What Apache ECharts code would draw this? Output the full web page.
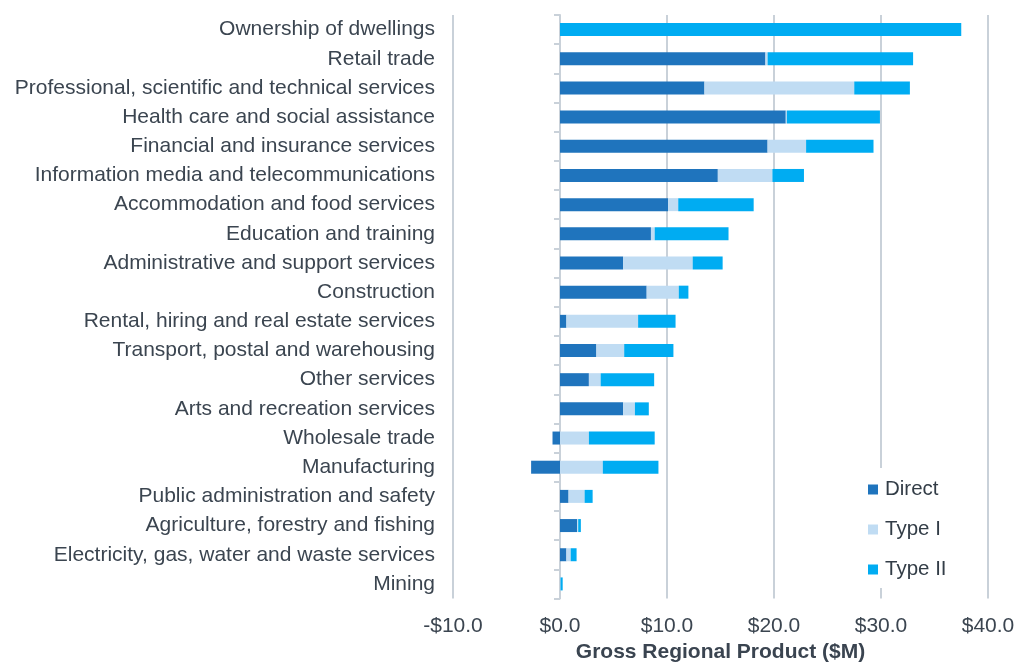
<!DOCTYPE html>
<html>
<head>
<meta charset="utf-8">
<script src="https://cdn.jsdelivr.net/npm/echarts@6/dist/echarts.min.js"></script>
<style>html,body{margin:0;padding:0;background:#fff;overflow:hidden}#c{width:1019px;height:668px}</style>
</head>
<body>
<div id="c"></div>
<script>
const categories = [
  'Ownership of dwellings',
  'Retail trade',
  'Professional, scientific and technical services',
  'Health care and social assistance',
  'Financial and insurance services',
  'Information media and telecommunications',
  'Accommodation and food services',
  'Education and training',
  'Administrative and support services',
  'Construction',
  'Rental, hiring and real estate services',
  'Transport, postal and warehousing',
  'Other services',
  'Arts and recreation services',
  'Wholesale trade',
  'Manufacturing',
  'Public administration and safety',
  'Agriculture, forestry and fishing',
  'Electricity, gas, water and waste services',
  'Mining'
];
const direct = [0, 19.2, 13.5, 21.1, 19.4, 14.75, 10.1, 8.5, 5.9, 8.1, 0.6, 3.4, 2.7, 5.9, -0.7, -2.7, 0.8, 1.6, 0.6, 0];
const typeI  = [0, 0.2, 14.0, 0.1, 3.6, 5.1, 0.95, 0.35, 6.5, 3.0, 6.7, 2.6, 1.1, 1.1, 2.7, 4.0, 1.5, 0.1, 0.4, 0.05];
const typeII = [37.5, 13.6, 5.2, 8.7, 6.3, 2.95, 7.05, 6.9, 2.8, 0.9, 3.5, 4.6, 5.0, 1.3, 6.15, 5.2, 0.75, 0.25, 0.55, 0.2];
const xTicks = [-10, 0, 10, 20, 30, 40];

const chart = echarts.init(document.getElementById('c'), null, {width: 1019, height: 668});
const font = 'Liberation Sans, Arial, sans-serif';
const barW = 13;
chart.setOption({
  animation: false,
  textStyle: {fontFamily: font},
  grid: {left: 453, width: 535, top: 15, height: 589, containLabel: false},
  legend: {
    orient: 'vertical', left: 860, top: 468,
    data: ['Direct', 'Type I', 'Type II'],
    itemWidth: 10, itemHeight: 10, itemGap: 19,
    icon: 'rect',
    backgroundColor: '#fff',
    padding: [11, 14, 8, 8],
    textStyle: {fontSize: 20.5, color: '#333d47', fontFamily: font, padding: [0, 0, 0, 2]}
  },
  xAxis: {
    type: 'value', min: xTicks[0], max: xTicks[xTicks.length - 1], interval: 10,
    axisLine: {show: false}, axisTick: {show: false},
    splitLine: {show: true, lineStyle: {color: '#c9d1d9', width: 2}},
    axisLabel: {
      fontSize: 21, color: '#3b4550', margin: 17.5, fontFamily: font,
      formatter: v => (v < 0 ? '-$' : '$') + Math.abs(v).toFixed(1)
    },
    name: 'Gross Regional Product ($M)', nameLocation: 'middle', nameGap: 43.5,
    nameTextStyle: {fontSize: 21, fontWeight: 'bold', color: '#3a4450', fontFamily: font}
  },
  yAxis: [{
    type: 'category', data: categories, inverse: true,
    axisLine: {show: false, onZero: false}, axisTick: {show: false},
    axisLabel: {fontSize: 21, color: '#3b4550', margin: 18, fontFamily: font}
  }, {
    type: 'category', data: categories, inverse: true, position: 'left',
    axisLine: {show: true, onZero: true, lineStyle: {color: '#c9d1d9', width: 2}},
    axisTick: {show: true, length: 6, lineStyle: {color: '#c9d1d9', width: 2}},
    axisLabel: {show: false}
  }],
  series: [
    {name: 'Direct', type: 'bar', stack: 'g', data: direct, barWidth: barW, itemStyle: {color: '#1f74bd'}},
    {name: 'Type I', type: 'bar', stack: 'g', data: typeI, barWidth: barW, itemStyle: {color: '#c0dcf3'}},
    {name: 'Type II', type: 'bar', stack: 'g', data: typeII, barWidth: barW, itemStyle: {color: '#00acf2'}}
  ]
});
</script>
</body>
</html>
